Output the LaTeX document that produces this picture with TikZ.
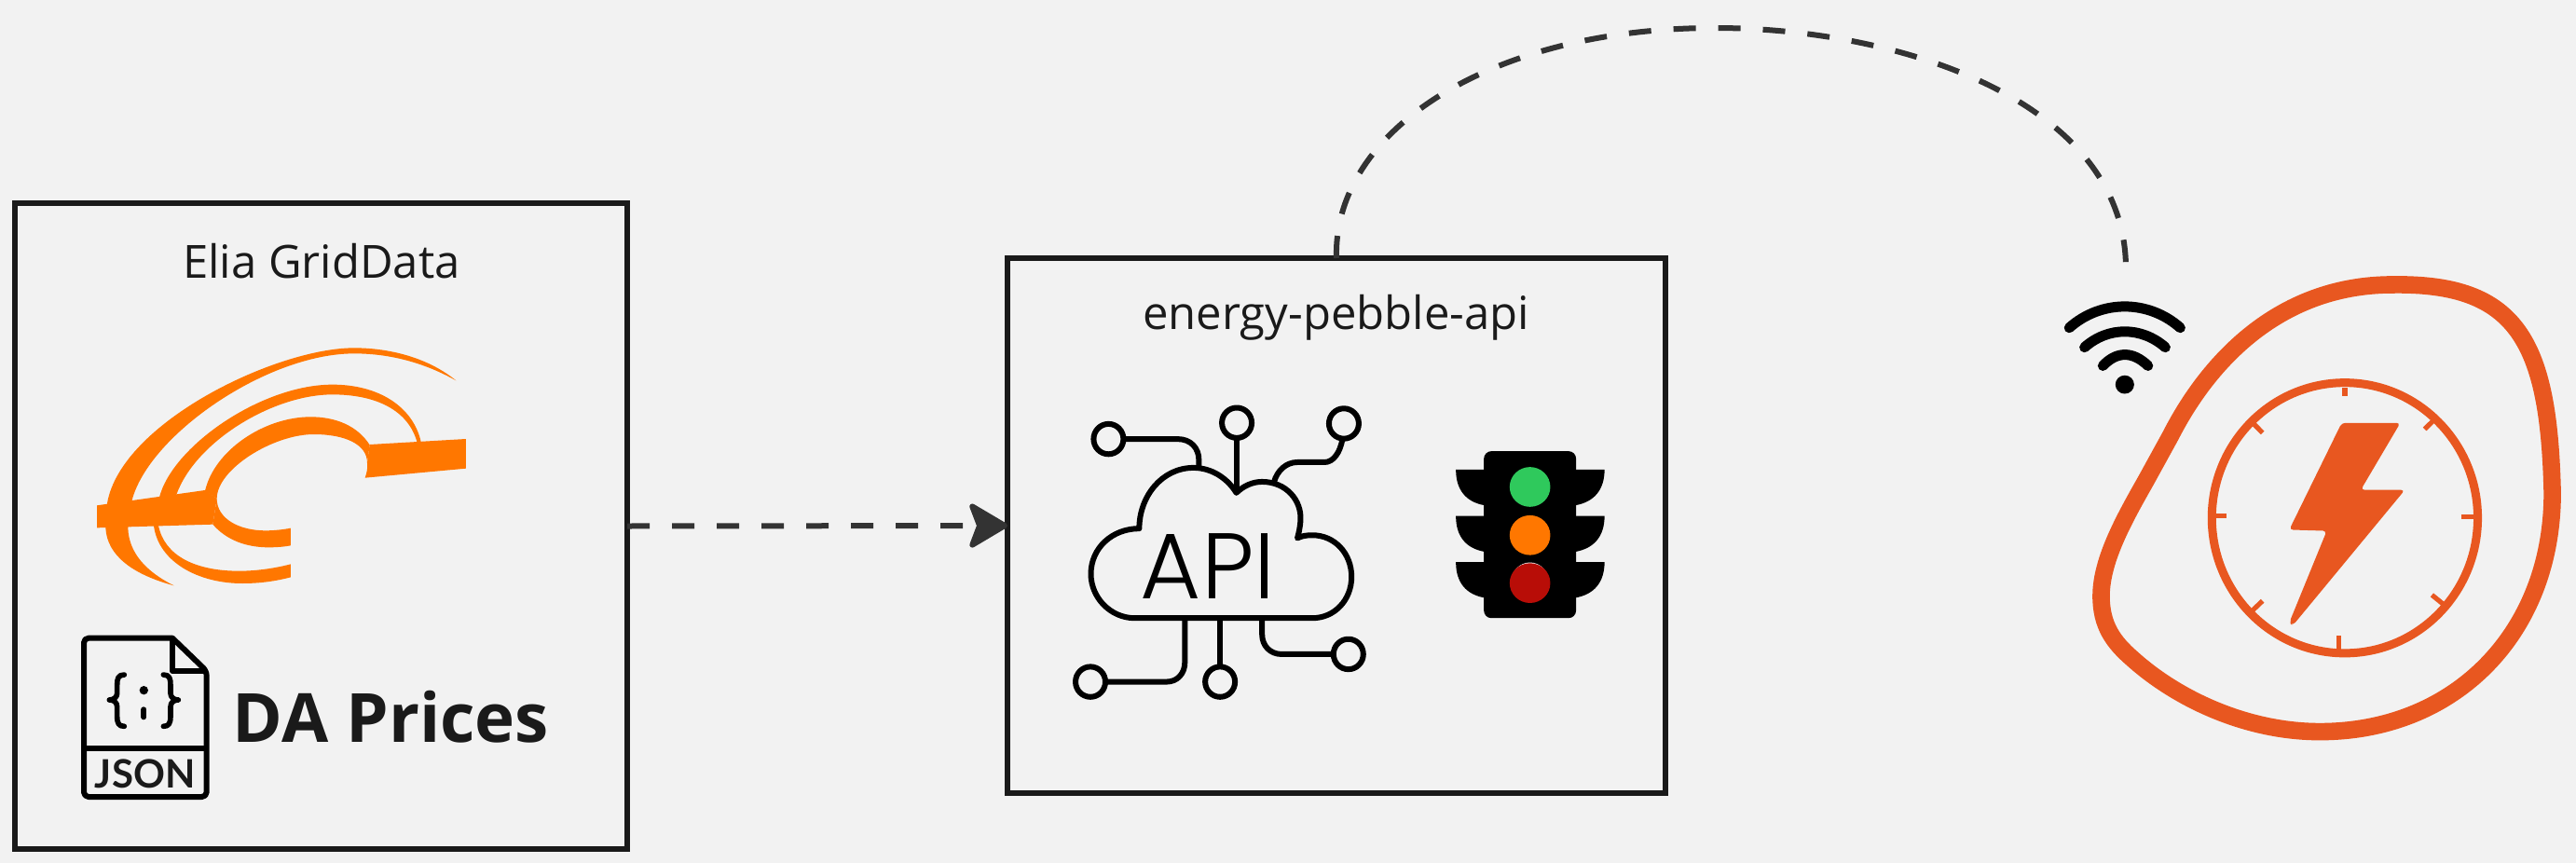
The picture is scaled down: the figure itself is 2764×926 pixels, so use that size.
\documentclass[tikz,border=0pt]{standalone}
\usepackage{fontspec}
\setmainfont{Open Sans}
\newfontfamily\apifont{Poppins Light}
\newfontfamily\jsonfont{Lato}
\usetikzlibrary{arrows.meta}
\definecolor{bg}{HTML}{F2F2F2}
\definecolor{ink}{HTML}{1A1A1A}
\definecolor{conn}{HTML}{333333}
\definecolor{eliaorange}{HTML}{FF7700}
\definecolor{coral}{HTML}{E85720}
\definecolor{lampgreen}{HTML}{2FC95C}
\definecolor{lampred}{HTML}{B80D07}
\tikzset{
  x=0.5pt,y=-0.5pt,
  boxnode/.style={draw=ink,line width=3pt,inner sep=0pt,outer sep=0pt},
  label/.style={text=ink,font=\fontsize{24.5}{28}\selectfont,anchor=base,inner sep=0pt},
  linkline/.style={draw=conn,line width=3pt,dash pattern=on 12pt off 12pt},
  iconline/.style={draw=black,line width=3pt,line cap=round,line join=round},
  tickline/.style={draw=coral,line width=2.6pt},
}
\begin{document}
\begin{tikzpicture}
\useasboundingbox (0,0) rectangle (2764,926);
\fill[bg] (0,0) rectangle (2764,926);

% boxes
\node[boxnode,minimum width=328.5pt,minimum height=346.5pt] (elia) at (344.5,564.5) {};
\node[boxnode,minimum width=353pt,minimum height=287pt] (api) at (1434,564) {};
\node[label] (eliatitle) at (345,298.6) {Elia GridData};
\node[label] (apititle) at (1433.5,353.7) {energy-pebble-api};

% connectors
\coordinate (wifitop) at (2281,293);
\draw[linkline,-{Stealth[length=23pt,width=27pt,inset=5pt,round]}] (elia.east) -- (api.west);
\draw[linkline] (api.north) .. controls (1430,140) and (1600,30) .. (1840,30) .. controls (2040,30) and (2285,110) .. (wifitop);

% Elia logo
\begin{scope}[shift={(80,340)},scale=1/3]
\fill[eliaorange] (1228,205) .. controls (1130,125) and (1000,100) .. (900,100) .. controls (650,100) and (150,340) .. (105,600) -- (100,680) .. controls (105,770) and (190,830) .. (320,865) .. controls (230,820) and (175,760) .. (172,680) -- (185,590) .. controls (240,380) and (620,118) .. (900,118) .. controls (1020,118) and (1130,150) .. (1228,205) -- cycle;
\fill[eliaorange] (1115,402) .. controls (1090,290) and (980,218) .. (830,218) .. controls (600,218) and (310,420) .. (272,585) -- (328,572) .. controls (390,400) and (640,250) .. (830,250) .. controls (970,250) and (1075,300) .. (1103,405) -- cycle;
\fill[eliaorange] (255,672) .. controls (270,790) and (400,858) .. (540,858) .. controls (600,858) and (650,850) .. (696,838) -- (696,796) .. controls (650,808) and (590,818) .. (530,818) .. controls (390,818) and (290,770) .. (270,672) -- cycle;
\fill[eliaorange] (950,412) .. controls (910,350) and (840,322) .. (760,322) .. controls (610,322) and (450,430) .. (420,560) -- (458,585) .. controls (458,490) and (640,378) .. (770,378) .. controls (870,378) and (942,410) .. (942,470) -- cycle;
\fill[eliaorange] (445,668) .. controls (490,720) and (555,742) .. (625,742) .. controls (650,742) and (675,740) .. (696,736) -- (696,680) .. controls (670,685) and (640,688) .. (615,688) .. controls (530,688) and (458,650) .. (458,585) -- cycle;
\fill[eliaorange] (72,607) -- (420,558) -- (458,585) -- (445,668) -- (72,679) -- cycle;
\fill[eliaorange] (950,411) -- (1260,393) -- (1260,488) -- (935,518) .. controls (942,500) and (944,480) .. (942,470) -- cycle;
\end{scope}

% JSON file icon
\begin{scope}[shift={(70,670)},scale=1/3]
\draw[iconline,rounded corners=2.5pt] (345,44) -- (60,44) -- (60,555) -- (455,555) -- (455,150) -- (345,44);
\draw[iconline,line cap=butt] (345,44) -- (345,150) -- (455,150);
\draw[iconline,line cap=butt] (60,400) -- (455,400);
\draw[iconline,line width=2.8pt] (190,162) .. controls (170,162) and (167,175) .. (167,195) -- (167,222) .. controls (167,235) and (155,243) .. (142,243) .. controls (155,243) and (167,250) .. (167,265) -- (167,295) .. controls (167,318) and (172,328) .. (190,328);
\draw[iconline,line width=2.8pt] (316,162) .. controls (336,162) and (339,175) .. (339,195) -- (339,222) .. controls (339,235) and (351,243) .. (364,243) .. controls (351,243) and (339,250) .. (339,265) -- (339,295) .. controls (339,318) and (334,328) .. (316,328);
\fill[black] (253,212) circle (14);
\draw[iconline,line width=3pt] (253,274) -- (253,298);
\node[text=ink,font=\jsonfont\bfseries\fontsize{21}{24}\selectfont,anchor=base,inner sep=0pt] (jsontext) at (257,527) {JSON};
\end{scope}
\node[text=ink,font=\fontsize{36.4}{40}\bfseries\selectfont,anchor=base,inner sep=0pt] (daprices) at (419.5,796) {DA Prices};

% API cloud
\begin{scope}[shift={(1060,260)},xscale=0.4847,yscale=0.3953]
\draw[iconline] (550,680) .. controls (565,662) and (585,650) .. (607,650) .. controls (660,650) and (695,700) .. (692,755) .. controls (691,775) and (688,790) .. (685,803) .. controls (695,797) and (705,795) .. (718,795) .. controls (768,795) and (805,845) .. (805,908) .. controls (805,970) and (768,1020) .. (718,1020) -- (325,1020) .. controls (272,1020) and (228,965) .. (228,900) .. controls (228,830) and (275,777) .. (335,777) .. controls (335,690) and (385,612) .. (455,612) .. controls (495,612) and (530,640) .. (550,680) -- cycle;
\draw[iconline] (267,534) ellipse [x radius=33,y radius=41];
\draw[iconline] (551,490) ellipse [x radius=33,y radius=41];
\draw[iconline] (788,492) ellipse [x radius=33,y radius=41];
\draw[iconline] (227,1193) ellipse [x radius=33,y radius=41];
\draw[iconline] (514,1193) ellipse [x radius=33,y radius=41];
\draw[iconline] (798,1118) ellipse [x radius=33,y radius=41];
\draw[iconline,line cap=butt] (300,534) -- (420,534) .. controls (450,534) and (467,560) .. (467,590) -- (467,608);
\draw[iconline,line cap=butt] (551,531) -- (551,680);
\draw[iconline,line cap=butt] (785,533) .. controls (780,570) and (765,597) .. (745,597) -- (685,597) .. controls (660,597) and (640,620) .. (633,652);
\draw[iconline,line cap=butt] (260,1193) -- (395,1193) .. controls (420,1193) and (436,1170) .. (436,1140) -- (436,1022);
\draw[iconline,line cap=butt] (514,1152) -- (514,1022);
\draw[iconline,line cap=butt] (765,1118) -- (650,1118) .. controls (625,1118) and (607,1095) .. (607,1065) -- (607,1022);
\node[text=black,font=\apifont\fontsize{50}{50}\selectfont,anchor=base,inner sep=0pt] (apitext) at (487,968) {API};
\end{scope}

% traffic light
\begin{scope}[shift={(1060,260)},xscale=0.4847,yscale=0.3953]
\fill[black,rounded corners=4pt] (1098,567) rectangle (1302,1020);
\foreach \wy in {617,743,868}{
  \fill[black] (1100,\wy) -- (1036,\wy) .. controls (1036,\wy+55) and (1058,\wy+88) .. (1100,\wy+97) -- cycle;
  \fill[black] (1300,\wy) -- (1365,\wy) .. controls (1365,\wy+55) and (1342,\wy+88) .. (1300,\wy+97) -- cycle;
}
\fill[lampgreen] (1200,664) ellipse [x radius=45,y radius=54];
\fill[eliaorange] (1200,795) ellipse [x radius=45,y radius=54];
\fill[white] (1200,923) ellipse [x radius=42,y radius=54];
\fill[lampred] (1200,925) ellipse [x radius=45,y radius=54];
\end{scope}

% wifi and device
\begin{scope}[shift={(2180,260)},xscale=0.3724,yscale=0.3954]
\fill[black] (268,386) ellipse [x radius=27,y radius=25];
\draw[iconline,line width=5.5pt] (108,232) .. controls (200,155) and (336,155) .. (428,232);
\draw[iconline,line width=5.5pt] (152,285) .. controls (220,228) and (316,228) .. (385,285);
\draw[iconline,line width=5.5pt] (205,335) .. controls (245,295) and (291,295) .. (335,335);
\draw[coral,line width=9.3pt] (1040,115) .. controls (1400,110) and (1490,270) .. (1500,680) .. controls (1500,1060) and (1220,1328) .. (830,1328) .. controls (620,1328) and (420,1240) .. (290,1130) .. controls (235,1085) and (200,1040) .. (200,960) .. controls (200,860) and (270,745) .. (330,645) -- (400,525) .. controls (500,340) and (700,115) .. (1040,115) -- cycle;
\draw[coral,line width=4.5pt] (902,748) ellipse [x radius=383,y radius=367];
\foreach \ax/\ay/\bx/\by in {902/395/902/418,530/743/560/743,1238/745/1272/745,885/1068/885/1105,1132/507/1158/483,640/493/665/517,635/1000/665/973,1153/957/1187/983}{
  \draw[tickline] (\ax,\ay) -- (\bx,\by);
}
\fill[coral,rounded corners=2pt] (893,490) -- (1062,490) -- (948,672) -- (1075,672) -- (752,1040) -- (742,1032) -- (850,783) -- (742,780) -- cycle;
\end{scope}
\end{tikzpicture}
\end{document}
